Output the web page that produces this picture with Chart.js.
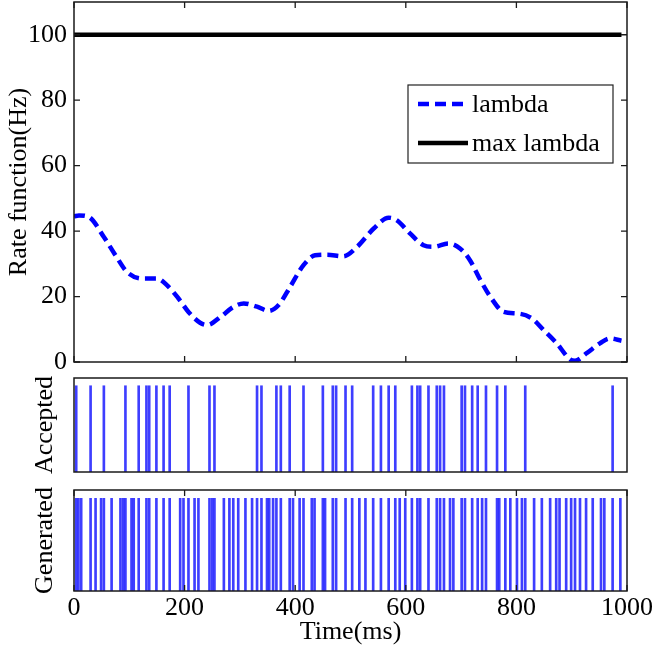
<!DOCTYPE html>
<html><head><meta charset="utf-8">
<script src="https://cdn.jsdelivr.net/npm/chart.js@4.4.1/dist/chart.umd.min.js"></script>
<style>
html,body{margin:0;padding:0;background:#fff;}
#wrap{position:relative;width:654px;height:659px;overflow:hidden;background:#fff;}
canvas{position:absolute;left:0;}
</style></head><body>
<div id="wrap">
<canvas id="c1" width="654" height="370" style="top:0px"></canvas>
<canvas id="c2" width="654" height="110" style="top:370px"></canvas>
<canvas id="c3" width="654" height="179" style="top:480px"></canvas>
</div>
<script>
// ---- data ----
const timeMs   = [0,9,27,54,75,96,123,150,168,189,207,228,241,265,289,307,331,352,370,391,415,436,457,487,512,542,569,584,608,632,650,677,698,716,735,753,777,804,828,849,873,897,906,927,951,969,990];
const lambdaHz = [44.5,44.8,44.3,38.2,32.6,27.5,25.5,25.5,23.5,19.4,15.3,12.0,11.3,13.8,16.9,17.9,16.9,15.6,17.4,23.0,29.6,32.6,32.8,32.3,35.2,40.8,44.1,43.3,39.2,35.7,35.2,36.2,34.7,31.1,25.0,19.9,15.3,14.8,13.3,9.8,5.7,0.8,0.4,2.7,5.7,7.2,6.5];
const maxLambdaTime = [0,990];
const maxLambdaHz   = [100,100];
const acceptedMs  = [4,30,54,93,117,131,136,149,162,173,207,245,254,331,339,366,374,390,415,450,468,474,491,503,541,555,569,581,611,621,626,641,656,662,669,701,707,720,730,745,765,780,816,974];
const generatedMs = [4,8,13,30,39,49,54,68,84,89,93,104,108,117,131,136,149,162,173,192,198,207,218,225,245,250,254,271,281,288,297,310,322,331,339,349,353,360,366,374,390,396,408,415,430,435,450,454,468,474,491,503,516,527,541,555,569,581,589,599,611,621,626,641,656,662,669,680,686,701,707,720,730,738,745,765,769,780,789,801,810,816,832,846,861,872,878,890,899,906,915,926,938,953,959,974,988];
const xTickLabels = [0,200,400,600,800,1000];
const yTickLabels = [0,20,40,60,80,100];
const seriesNames = ['lambda','max lambda'];

const FAM = "'Liberation Serif','Times New Roman',serif";
const FS = 26;
Chart.defaults.font.family = FAM;
Chart.defaults.color = '#000';

const framePlugin = {
  id: 'frame',
  afterDatasetsDraw(chart, args, o) {
    const {ctx, chartArea: a, scales} = chart;
    ctx.save();
    ctx.strokeStyle = '#1a1a1a';
    ctx.lineWidth = 1.5;
    ctx.strokeRect(a.left, a.top, a.right - a.left, a.bottom - a.top);
    const L = 6;
    ctx.lineWidth = 1.3;
    ctx.beginPath();
    if (o.xTicks) {
      scales.x.ticks.forEach(t => {
        const p = scales.x.getPixelForValue(t.value);
        ctx.moveTo(p, a.bottom); ctx.lineTo(p, a.bottom - L);
        ctx.moveTo(p, a.top); ctx.lineTo(p, a.top + L);
      });
    }
    if (o.yTicks) {
      scales.y.ticks.forEach(t => {
        const p = scales.y.getPixelForValue(t.value);
        ctx.moveTo(a.left, p); ctx.lineTo(a.left + L, p);
        ctx.moveTo(a.right, p); ctx.lineTo(a.right - L, p);
      });
    }
    ctx.stroke();
    ctx.restore();
  }
};

const legendBox = {
  id: 'legendBox',
  afterDraw(chart, args, o) {
    if (!o.show) return;
    const ctx = chart.ctx;
    ctx.save();
    ctx.fillStyle = '#fff';
    ctx.fillRect(o.x, o.y, o.w, o.h);
    ctx.strokeStyle = '#222';
    ctx.lineWidth = 1.2;
    ctx.strokeRect(o.x, o.y, o.w, o.h);
    chart.data.datasets.forEach((ds, i) => {
      const y = o.y + o.row0 + i * o.rowGap;
      ctx.strokeStyle = ds.borderColor;
      ctx.lineWidth = ds.borderWidth;
      ctx.setLineDash(ds.borderDash || []);
      ctx.beginPath();
      ctx.moveTo(o.x + 10, y); ctx.lineTo(o.x + 60, y);
      ctx.stroke();
      ctx.setLineDash([]);
      ctx.fillStyle = '#000';
      ctx.font = FS + 'px ' + FAM;
      ctx.textBaseline = 'middle';
      ctx.textAlign = 'left';
      ctx.fillText(ds.label, o.x + 64, y + 1);
    });
    ctx.restore();
  }
};
Chart.register(framePlugin, legendBox);

const setTicks = arr => (s => { s.ticks = arr.map(v => ({value: v})); });
const noPad = s => { s.paddingTop = 0; s.paddingBottom = 0; s.paddingLeft = 0; s.paddingRight = 0; };
const plainLabel = v => String(v);

// ---- top panel ----
new Chart(document.getElementById('c1'), {
  type: 'line',
  data: {
    datasets: [
      {label: seriesNames[0], data: timeMs.map((t, i) => ({x: t, y: lambdaHz[i]})),
       borderColor: '#0000ff', borderWidth: 4.5, borderDash: [11, 6], pointRadius: 0,
       cubicInterpolationMode: 'monotone', fill: false},
      {label: seriesNames[1], data: maxLambdaTime.map((t, i) => ({x: t, y: maxLambdaHz[i]})),
       borderColor: '#000000', borderWidth: 4.5, pointRadius: 0, fill: false}
    ]
  },
  options: {
    responsive: false, animation: false, devicePixelRatio: 1,
    layout: {padding: {top: 2, right: 27, left: 0, bottom: 0}},
    plugins: {
      legend: {display: false}, tooltip: {enabled: false},
      frame: {xTicks: true, yTicks: true},
      legendBox: {show: true, x: 408, y: 85, w: 205, h: 78, row0: 19, rowGap: 39}
    },
    scales: {
      x: {type: 'linear', min: 0, max: 1000,
          afterBuildTicks: setTicks(xTickLabels),
          ticks: {display: false}, grid: {display: false, drawTicks: false}, border: {display: false},
          afterFit: s => { s.height = 8; noPad(s); }},
      y: {type: 'linear', min: 0, max: 110,
          afterBuildTicks: setTicks(yTickLabels),
          ticks: {font: {size: FS}, color: '#000', padding: 7, callback: plainLabel},
          grid: {display: false, drawTicks: false}, border: {display: false},
          title: {display: true, text: 'Rate function(Hz)', font: {size: FS}, color: '#000', padding: {top: 4, bottom: 0}},
          afterFit: s => { s.width = 74; noPad(s); }}
    }
  }
});

function spikeChart(id, times, label, topPad, xH, showX) {
  new Chart(document.getElementById(id), {
    type: 'bar',
    data: {datasets: [{label: label, data: times.map(t => ({x: t, y: [0, 1]})),
      backgroundColor: 'rgba(20,20,255,0.82)', borderWidth: 0, barThickness: 2, grouped: false}]},
    options: {
      responsive: false, animation: false, devicePixelRatio: 1,
      layout: {padding: {top: topPad, right: 27, left: 0, bottom: 0}},
      plugins: {legend: {display: false}, tooltip: {enabled: false},
        frame: {xTicks: showX, yTicks: false}, legendBox: {show: false}},
      scales: {
        x: {type: 'linear', min: 0, max: 1000, offset: false,
            afterBuildTicks: setTicks(xTickLabels),
            ticks: {display: showX, font: {size: FS}, color: '#000', padding: 2, maxRotation: 0, autoSkip: false, callback: plainLabel},
            grid: {display: false, drawTicks: false}, border: {display: false},
            title: {display: showX, text: 'Time(ms)', font: {size: FS}, color: '#000', padding: {top: 0, bottom: 11}},
            afterFit: s => { s.height = xH; noPad(s); }},
        y: {type: 'linear', min: 0, max: 1.09,
            ticks: {display: false}, grid: {display: false, drawTicks: false}, border: {display: false},
            title: {display: true, text: label, font: {size: FS}, color: '#000', padding: {top: 30, bottom: 0}},
            afterFit: s => { s.width = 74; noPad(s); }}
      }
    }
  });
}
spikeChart('c2', acceptedMs, 'Accepted', 8, 8, false);
spikeChart('c3', generatedMs, 'Generated', 10, 68, true);
</script>
</body></html>
